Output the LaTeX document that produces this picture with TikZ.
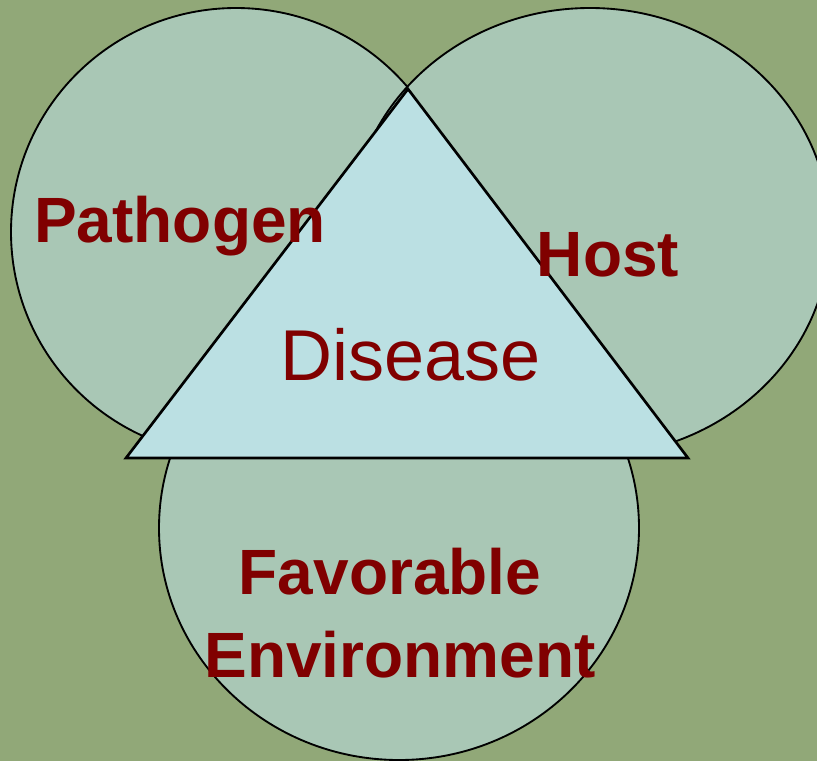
\documentclass[tikz,border=0pt]{standalone}
\usepackage{fontspec}
\setmainfont{Liberation Sans}
\definecolor{leafgreen}{HTML}{91A878}
\definecolor{ringfill}{HTML}{A9C7B5}
\definecolor{trifill}{HTML}{BBE0E3}
\definecolor{labelred}{HTML}{800000}
\tikzset{
  ring/.style={draw=black, line width=1.4pt, fill=ringfill},
  factor/.style={text=labelred, font=\fontsize{48}{58}\selectfont\bfseries, inner sep=0pt, anchor=base},
}
\begin{document}
\begin{tikzpicture}[x=0.75pt, y=-0.75pt]
  \useasboundingbox (0,0) rectangle (817,761);
  \clip (0,0) rectangle (817,761);
  \fill[leafgreen] (0,0) rectangle (817,761);
  % three circles
  \draw[ring] (236,232) ellipse [x radius=225, y radius=224];
  \draw[ring] (590,232) ellipse [x radius=240, y radius=224];
  \draw[ring] (399,528) ellipse [x radius=240, y radius=232];
  % triangle on top
  \draw[line width=2pt, fill=trifill] (408,89) -- (126,458) -- (688,458) -- cycle;
  \node[factor] (pathogen) at (180,242) {Pathogen};
  \node[factor] (host) at (608,276) {Host};
  \node[factor, font=\fontsize{54}{60}\selectfont] (disease) at (411,380) {Disease};
  \node[factor] (favorable) at (390,594) {Favorable};
  \node[factor] (environment) at (400,677) {Environment};
\end{tikzpicture}
\end{document}
